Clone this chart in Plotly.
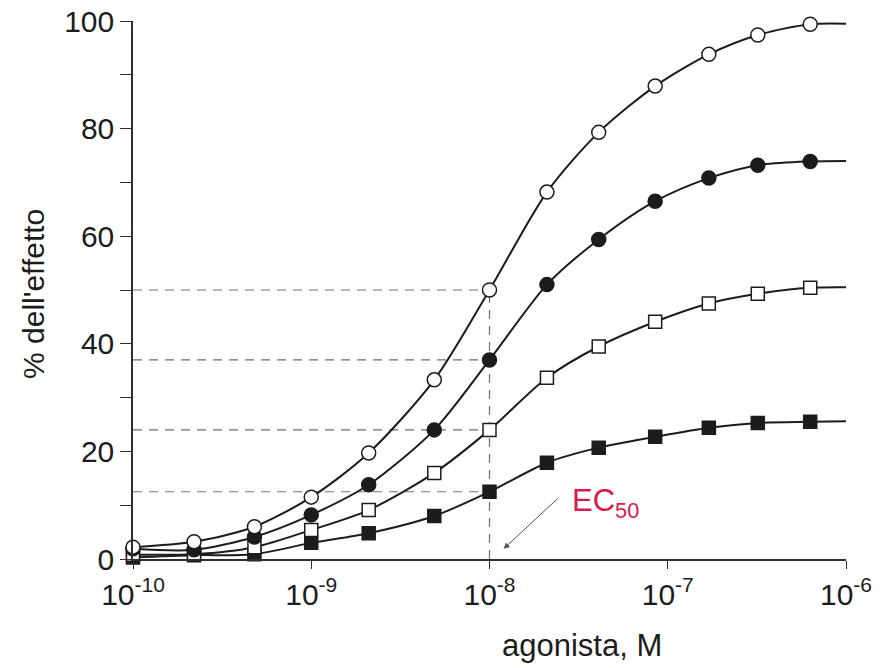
import math
import plotly.graph_objects as go

# ---- data ----
concentration = [1e-10, 2.2e-10, 4.8e-10, 1e-9, 2.1e-9, 4.9e-9, 1e-8,
                 2.1e-8, 4.1e-8, 8.5e-8, 1.7e-7, 3.2e-7, 6.3e-7]
open_circles = [2.2, 3.2, 6.0, 11.5, 19.7, 33.3, 50.0, 68.2, 79.3, 87.9, 93.8, 97.4, 99.4]
filled_circles = [1.9, 1.7, 4.1, 8.2, 13.8, 24.0, 37.0, 51.0, 59.4, 66.5, 70.8, 73.2, 73.9]
open_squares = [0.8, 0.9, 2.2, 5.4, 9.1, 16.0, 24.0, 33.7, 39.5, 44.1, 47.5, 49.3, 50.4]
filled_squares = [0.3, 0.7, 0.9, 3.0, 4.8, 8.0, 12.5, 17.9, 20.7, 22.7, 24.4, 25.3, 25.5]

curve_end_x = 1e-6
curve_end_values = [99.5, 74.0, 50.5, 25.6]

ec50 = 1e-8
half_max_levels = [50.0, 37.0, 24.0, 12.5]
ec50_arrow_head = (1.2e-8, 1.9)

x_tick_vals = [1e-10, 1e-9, 1e-8, 1e-7, 1e-6]
x_tick_text = ["10<sup>-10</sup>", "10<sup>-9</sup>", "10<sup>-8</sup>",
               "10<sup>-7</sup>", "10<sup>-6</sup>"]
y_tick_vals = [0, 10, 20, 30, 40, 50, 60, 70, 80, 90, 100]
y_tick_text = ["0", "", "20", "", "40", "", "60", "", "80", "", "100"]

FONT = "Liberation Sans, Arial, Helvetica, sans-serif"
INK = "#1c1c1c"
AXIS = "#2e2e2e"
DASH = "#707070"

# drawn bottom -> top (open circles end up on top, as in the reference)
series = [
    ("filled squares", filled_squares, curve_end_values[3], "square", INK, 13),
    ("open squares", open_squares, curve_end_values[2], "square", "white", 13),
    ("filled circles", filled_circles, curve_end_values[1], "circle", INK, 14),
    ("open circles", open_circles, curve_end_values[0], "circle", "white", 14),
]

# the page has an 8px body margin; figure coordinates = page coordinates - 8
W, H = 874, 660
L, R, T, B = 125, 36, 13, 109
plot_w = W - L - R
plot_h = H - T - B


def px_to_paper(px, py):
    """figure-pixel position -> paper coordinates"""
    return (px - L) / plot_w, (H - B - py) / plot_h


fig = go.Figure()

# fitted curves
for name, vals, end_v, _, _, _ in series:
    fig.add_trace(go.Scatter(
        x=concentration + [curve_end_x], y=vals + [end_v],
        mode="lines", line=dict(color=INK, width=2, shape="spline", smoothing=0.8),
        hoverinfo="skip", showlegend=False, cliponaxis=False))

# markers
for name, vals, _, sym, fill, size in series:
    fig.add_trace(go.Scatter(
        x=concentration, y=vals, mode="markers", name=name,
        marker=dict(symbol=sym, size=size, color=fill,
                    line=dict(color=INK, width=1.5)),
        showlegend=False, cliponaxis=False))

# dashed guide lines
shapes = []
for lvl in half_max_levels:
    shapes.append(dict(type="line", xref="x", yref="y", x0=1e-10, x1=ec50, y0=lvl, y1=lvl,
                       line=dict(color=DASH, width=1.2, dash="9px,7px"), layer="below"))
shapes.append(dict(type="line", xref="x", yref="y", x0=ec50, x1=ec50, y0=0, y1=max(half_max_levels),
                   line=dict(color=DASH, width=1.2, dash="9px,7px"), layer="below"))

ytitle_x, ytitle_y = px_to_paper(25, 286)
xtitle_x, xtitle_y = px_to_paper(574, 637)
ec_x, ec_y = px_to_paper(562, 495)

fig.update_layout(
    width=W, height=H,
    margin=dict(l=L, r=R, t=T, b=B),
    paper_bgcolor="white", plot_bgcolor="white",
    font=dict(family=FONT, color=INK, size=30),
    shapes=shapes,
    xaxis=dict(type="log", range=[-10, -6], tickvals=x_tick_vals, ticktext=x_tick_text,
               ticks="outside", ticklen=8, tickwidth=1.3, tickcolor=AXIS,
               showline=True, linecolor=AXIS, linewidth=1.5, automargin=False,
               ticklabeloverflow="allow",
               showgrid=False, zeroline=False, tickfont=dict(size=30)),
    yaxis=dict(range=[0, 100], tickvals=y_tick_vals, ticktext=y_tick_text,
               ticks="outside", ticklen=11, tickwidth=1.3, tickcolor=AXIS,
               showline=True, linecolor=AXIS, linewidth=1.5, automargin=False,
               ticklabeloverflow="allow",
               showgrid=False, zeroline=False, tickfont=dict(size=30)),
    annotations=[
        dict(text="% dell'effetto", xref="paper", yref="paper",
             x=ytitle_x, y=ytitle_y, textangle=-90,
             xanchor="center", yanchor="middle", showarrow=False,
             font=dict(size=30, color=INK)),
        dict(text="agonista, M", xref="paper", yref="paper", x=xtitle_x, y=xtitle_y,
             xanchor="center", yanchor="middle",
             showarrow=False, font=dict(size=31, color=INK)),
        dict(text="EC<sub>50</sub>", xref="paper", yref="paper", x=ec_x, y=ec_y,
             xanchor="left", yanchor="middle", showarrow=False,
             font=dict(size=31, color="#d81b4a")),
        dict(text="", xref="x", yref="y",
             x=math.log10(ec50_arrow_head[0]), y=ec50_arrow_head[1],
             ax=56, ay=-52, axref="pixel", ayref="pixel",
             showarrow=True, arrowhead=2, arrowsize=1.2, arrowwidth=1, arrowcolor="#555"),
    ],
)

fig.write_html("out.html")
